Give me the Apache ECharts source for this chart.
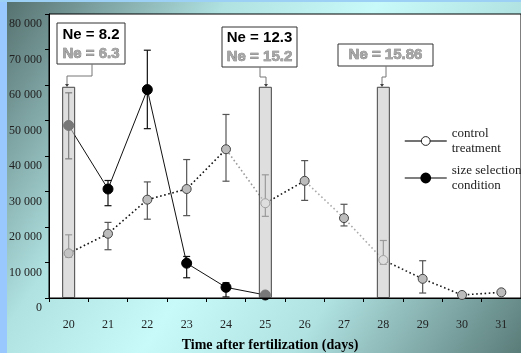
<!DOCTYPE html>
<html>
<head>
<meta charset="utf-8">
<script src="https://cdn.jsdelivr.net/npm/echarts@6/dist/echarts.min.js"></script>
<style>html,body{margin:0;padding:0;}#main{width:521px;height:353px;}</style>
</head>
<body>
<div id="main"></div>
<script>
const days = ['20','21','22','23','24','25','26','27','28','29','30','31'];
const yTickLabels = ['0','10 000','20 000','30 000','40 000','50 000','60 000','70 000','80 000'];
const controlMean = [12600, 18100, 27700, 30700, 41900, 26700, 33000, 22500, 10700, 5400, 850, 1600];
const controlLow  = [11500, 13600, 22200, 23200, 32900, 23000, 27500, 20300, 9500, 1400, 850, 1600];
const controlHigh = [17800, 21300, 32700, 39000, 51700, 34700, 38700, 26400, 16200, 10500, 850, 1600];
const selectionMean = [48600, 30700, 58700, 9800, 3000, 850];
const selectionLow  = [39200, 26000, 47700, 5700, 300, 850];
const selectionHigh = [57800, 33100, 69800, 11700, 4300, 850];
const neDays = ['20','25','28'];
const neBarTop = [59500, 59500, 59500];
const hollowControlDays = ['25','28'];

const chart = echarts.init(document.getElementById('main'));
const serif = 'Liberation Serif, Times New Roman, serif';
const sans = 'Liberation Sans, Arial, sans-serif';

const barData = days.map(d => { const k = neDays.indexOf(d); return k >= 0 ? neBarTop[k] : '-'; });
const controlData = controlMean.map((v, i) => hollowControlDays.indexOf(days[i]) >= 0
  ? {value: v, itemStyle: {color: '#ffffff', borderColor: '#666'}} : v);
const errControl = controlMean.map((v, i) => [i, controlLow[i], controlHigh[i]]);
const errSelection = selectionMean.map((v, i) => [i, selectionLow[i], selectionHigh[i]]);

function errRender(color) {
  return function (params, api) {
    const x = api.value(0);
    const lo = api.coord([x, api.value(1)]);
    const hi = api.coord([x, api.value(2)]);
    const w = 3.5;
    const st = {stroke: color, lineWidth: 1.2};
    return {type: 'group', children: [
      {type: 'line', shape: {x1: lo[0], y1: lo[1], x2: hi[0], y2: hi[1]}, style: st},
      {type: 'line', shape: {x1: lo[0]-w, y1: lo[1], x2: lo[0]+w, y2: lo[1]}, style: st},
      {type: 'line', shape: {x1: hi[0]-w, y1: hi[1], x2: hi[0]+w, y2: hi[1]}, style: st}
    ]};
  };
}

const grayText = {fill: '#a6a6a6', stroke: '#6a6a6a', lineWidth: 0.6};
function box(x, y, w, h) {
  return {type: 'rect', shape: {x: x, y: y, width: w, height: h}, style: {fill: '#fff', stroke: '#333', lineWidth: 1}, z: 100};
}
function txt(t, x, y, extra) {
  return {type: 'text', x: x, y: y, z: 101, style: Object.assign({text: t, font: 'bold 15px ' + sans, textAlign: 'center', textVerticalAlign: 'middle', fill: '#000'}, extra || {})};
}
function conn(pts) {
  const end = pts[pts.length - 1];
  return [
    {type: 'polyline', shape: {points: pts}, style: {stroke: '#777', lineWidth: 1, fill: null}, z: 100},
    {type: 'polygon', shape: {points: [[end[0]-2, end[1]-2], [end[0]+2, end[1]-2], [end[0], end[1]+1]]}, style: {fill: '#444'}, z: 100}
  ];
}

const option = {
  animation: false,
  backgroundColor: {type: 'linear', x: 0, y: 0, x2: 1, y2: 1, colorStops: [
    {offset: 0, color: '#526d6b'}, {offset: 0.3, color: '#b0e2e2'}, {offset: 0.5, color: '#c8fafa'},
    {offset: 0.7, color: '#b0e2e2'}, {offset: 1, color: '#5a7c79'}]},
  grid: {left: 49, right: -3, top: 14, bottom: 55, show: true, backgroundColor: '#fff', borderColor: '#000', borderWidth: 1},
  xAxis: {
    type: 'category', data: days, boundaryGap: true,
    axisLine: {lineStyle: {color: '#000', width: 1}},
    axisTick: {show: true, length: 4, lineStyle: {color: '#000'}},
    axisLabel: {fontFamily: serif, fontSize: 12, color: '#222', margin: 21}
  },
  yAxis: {
    type: 'value', min: 0, max: 80000, interval: 10000,
    axisLine: {show: true, lineStyle: {color: '#000', width: 1}},
    axisTick: {show: true, length: 4, lineStyle: {color: '#000'}},
    splitLine: {show: false},
    axisLabel: {fontFamily: serif, fontSize: 12, color: '#222', margin: 7, verticalAlign: 'top', padding: [4, 0, 0, 0],
      formatter: v => yTickLabels[Math.round(v / 10000)]}
  },
  legend: {
    orient: 'vertical', left: 399, top: 121, itemWidth: 42, itemHeight: 11, itemGap: 7,
    textStyle: {fontFamily: serif, fontSize: 13, color: '#222', lineHeight: 15},
    formatter: n => n === 'control' ? 'control\ntreatment' : 'size selection\ncondition',
    data: [
      {name: 'control', itemStyle: {color: '#fff', borderColor: '#222', borderWidth: 1}, lineStyle: {color: '#444', type: 'solid', width: 1.5}},
      {name: 'selection', itemStyle: {color: '#000', borderColor: '#000'}, lineStyle: {color: '#555', type: 'solid', width: 1.5}}
    ]
  },
  series: [
    {type: 'custom', name: 'errC', renderItem: errRender('#555'), data: errControl, z: 2, silent: true},
    {type: 'custom', name: 'errS', renderItem: errRender('#111'), data: errSelection, z: 2, silent: true},
    {
      type: 'line', name: 'control', data: controlData, z: 3,
      symbol: 'circle', symbolSize: 9,
      itemStyle: {color: '#bcbcbc', borderColor: '#444', borderWidth: 1},
      lineStyle: {width: 1.6, type: [1.6, 2.6], color: {type: 'linear', x: 0, y: 0, x2: 1, y2: 0, colorStops: [
        {offset: 0, color: '#111'}, {offset: 0.364, color: '#111'}, {offset: 0.364, color: '#999'},
        {offset: 0.4545, color: '#999'}, {offset: 0.4545, color: '#111'}, {offset: 0.545, color: '#111'},
        {offset: 0.545, color: '#aaa'}, {offset: 0.727, color: '#aaa'}, {offset: 0.727, color: '#222'},
        {offset: 1, color: '#111'}]}}
    },
    {
      type: 'line', name: 'selection', data: selectionMean, z: 4,
      symbol: 'circle', symbolSize: 10,
      itemStyle: {color: '#000', borderColor: '#000', borderWidth: 1},
      lineStyle: {width: 1, color: '#111'}
    },
    {
      type: 'bar', name: 'ne', data: barData, barWidth: 13, z: 5, silent: true,
      itemStyle: {color: 'rgba(200,200,200,0.6)', borderColor: '#444', borderWidth: 1}
    }
  ],
  graphic: [
    {type: 'rect', shape: {x: 0, y: 0, width: 7, height: 353}, style: {fill: '#99c8ff'}, z: 50},
    {type: 'rect', shape: {x: 0, y: 0, width: 521, height: 2}, style: {fill: '#9cd0f4'}, z: 50},
    box(57, 23, 68, 41),
    txt('Ne = 8.2', 91, 35),
    txt('Ne = 6.3', 91, 54, grayText),
    ...conn([[92, 64], [92, 76], [67, 76], [67, 86]]),
    box(222, 27, 75, 40),
    txt('Ne = 12.3', 259.5, 38),
    txt('Ne = 15.2', 259.5, 57, grayText),
    ...conn([[260, 67], [260, 77], [266, 77], [266, 86]]),
    box(338, 44, 95, 22),
    txt('Ne = 15.86', 385.5, 55, grayText),
    ...conn([[386, 66], [386, 77], [382, 77], [382, 86]]),
    {type: 'text', x: 270, y: 345, z: 60, style: {text: 'Time after fertilization (days)', font: 'bold 14px ' + serif, textAlign: 'center', textVerticalAlign: 'middle', fill: '#000'}}
  ]
};
chart.setOption(option);
</script>
</body>
</html>
